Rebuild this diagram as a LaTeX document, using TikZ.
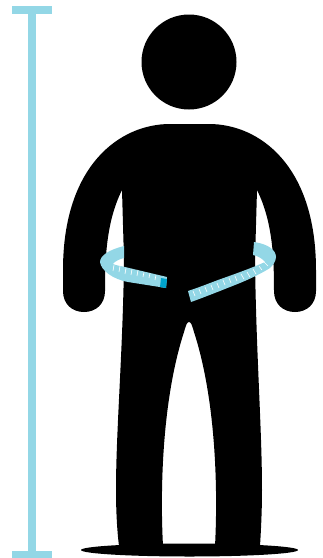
\documentclass[tikz,border=0pt]{standalone}
\definecolor{tape}{HTML}{93D7E6}
\definecolor{tip}{HTML}{00A3CC}
\tikzset{tapefill/.style={fill=tape,draw=none},tick/.style={draw=white,line width=0.6pt},bodyfill/.style={fill=black,draw=none}}
\begin{document}
\begin{tikzpicture}[x=1pt,y=-1pt]
\useasboundingbox (0,0) rectangle (323,558);
\fill[tape] (12,6) rectangle (52,14);
\fill[tape] (28,14) rectangle (36,551);
\fill[tape] (12,551) rectangle (52,558);
\fill[black] (189,62) circle (47.5);
\fill[black] (189.5,550) ellipse (108.5 and 6.5);
\path[bodyfill] (170,124) -- (209,124)
 .. controls (259,124) and (316,165) .. (316,270)
 -- (316,291)
 .. controls (316,304) and (307,312) .. (295,312)
 .. controls (283,312) and (274,304) .. (274,291)
 .. controls (274,260) and (273,222) .. (257,190)
 -- (255,260)
 .. controls (256,350) and (262,430) .. (262,490)
 .. controls (262,510) and (261,530) .. (260,546)
 -- (215,546)
 .. controls (218,490) and (216,400) .. (194,332)
 .. controls (192,325) and (191,322) .. (189,322)
 .. controls (187,322) and (186,325) .. (184,332)
 .. controls (162,400) and (160,490) .. (163,546)
 -- (119,546)
 .. controls (117,530) and (116,510) .. (116,490)
 .. controls (116,430) and (123,350) .. (124,260)
 -- (122,190)
 .. controls (106,222) and (105,260) .. (105,291)
 .. controls (105,304) and (96,312) .. (84,312)
 .. controls (72,312) and (63,304) .. (63,291)
 -- (63,270)
 .. controls (63,165) and (120,124) .. (170,124) -- cycle;
\path[tapefill] (124,246) .. controls (108,250) and (100,256) .. (100,262)
 .. controls (101,270) and (112,279) .. (128,282)
 -- (166,288) -- (167,277) -- (125,267)
 .. controls (120,266) and (115,265) .. (113,264)
 .. controls (115,261) and (120,259) .. (124,258) -- cycle;
\path[tapefill] (254,242) .. controls (268,244) and (276,250) .. (276,257)
 .. controls (276,262) and (272,266) .. (270,268)
 .. controls (262,273) and (252,278) .. (240,283)
 .. controls (225,289) and (205,297) .. (191,302)
 -- (188,291)
 .. controls (200,287) and (210,283) .. (218,280)
 .. controls (232,275) and (252,268) .. (265,262)
 .. controls (263,259) and (258,256) .. (253,255) -- cycle;
\fill[tip] (161,278) -- (167,279) -- (166,288) -- (160,287) -- cycle;
\foreach \x/\y/\u/\v in {114/265/113/271,120/266/119/272,126/268/125/274,132/269/131/275,138/270/137/276,144/272/143/277,150/273/149/278,156/275/155/280}
 \draw[tick] (\x,\y) -- (\u,\v);
\foreach \x/\y/\u/\v in {193/291/195/296,199/289/201/294,205/287/207/292,211/285/213/290,217/283/219/288,223/280/225/285,229/278/231/283,235/276/237/281,241/274/244/279,247/272/250/277,253/269/256/274,259/266/262/270,264/262/268/266}
 \draw[tick] (\x,\y) -- (\u,\v);
\end{tikzpicture}
\end{document}
